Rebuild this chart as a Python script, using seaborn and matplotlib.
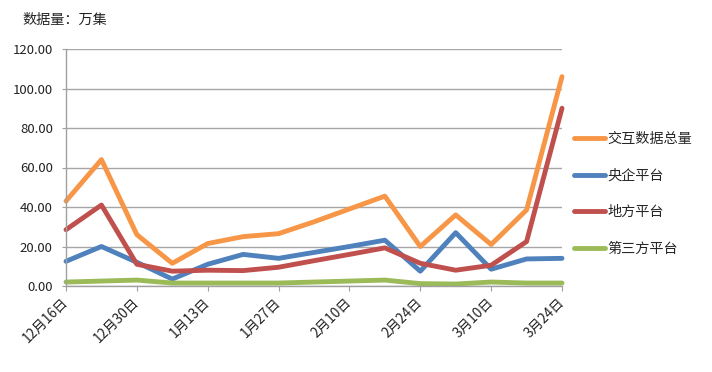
# -*- coding: utf-8 -*-
# Weekly data volume by platform (万集)

import pandas as pd
import seaborn as sns
import matplotlib.pyplot as plt
import matplotlib.transforms as mtransforms

# Data
dates = ["12月16日", "12月23日", "12月30日", "1月6日", "1月13日", "1月20日", "1月27日",
         "2月3日", "2月10日", "2月17日", "2月24日", "3月3日", "3月10日", "3月17日", "3月24日"]
total = [43, 64, 26, 11.5, 21.5, 25, 26.5, 32.5, 39, 45.5, 20, 36, 21, 38.5, 106]
central = [12.5, 20, 12, 3.5, 11, 16, 14, 17, 20, 23.2, 7.5, 27, 8.5, 13.7, 14]
local = [28.5, 41, 11, 7.5, 8, 7.8, 9.5, 12.8, 16, 19.3, 11.5, 8, 10.5, 22.5, 90]
third = [2, 2.5, 3, 1.5, 1.5, 1.5, 1.5, 2, 2.5, 3, 1.2, 1, 2, 1.5, 1.5]
series_names = ["交互数据总量", "央企平台", "地方平台", "第三方平台"]
colors = ["#F79646", "#4F81BD", "#C0504D", "#9BBB59"]

sns.set_style("white")
plt.rcParams['font.family'] = ['Noto Sans CJK SC', 'DejaVu Sans']

df = pd.DataFrame({"idx": list(range(len(dates))) * 4,
                   "value": total + central + local + third,
                   "series": [n for n in series_names for _ in dates]})

fig = plt.figure(figsize=(7.12, 3.72), dpi=100)
ax = fig.add_axes([66 / 712, 1 - 286 / 372, (562 - 66) / 712, (286 - 49) / 372])

sns.lineplot(data=df, x="idx", y="value", hue="series", hue_order=series_names,
             palette=dict(zip(series_names, colors)), linewidth=3.5, ax=ax,
             clip_on=False, legend=True)

ax.set_xlim(0, len(dates) - 1)
ax.set_ylim(0, 120)
ax.set_yticks(range(0, 121, 20))
ax.set_yticklabels([f"{v:.2f}" for v in range(0, 121, 20)])
ax.set_xticks(range(0, len(dates), 2))
ax.set_xticklabels(dates[::2], rotation=45, ha="right", va="center",
                   rotation_mode="anchor")
offset = mtransforms.ScaledTranslation(3 / 100, 0, fig.dpi_scale_trans)
for lab in ax.get_xticklabels():
    lab.set_transform(lab.get_transform() + offset)

ax.set_xlabel("")
ax.set_ylabel("")
ax.yaxis.grid(True, color="#a6a6a6", linewidth=1)
ax.set_axisbelow(True)
for s in ["top", "right"]:
    ax.spines[s].set_visible(False)
for s in ["left", "bottom"]:
    ax.spines[s].set_color("#a0a0a0")
    ax.spines[s].set_linewidth(1)
ax.tick_params(axis="y", length=3, color="#a0a0a0", pad=6.5, labelsize=9.5,
               labelcolor="#222222", left=True)
ax.tick_params(axis="x", length=3.5, color="#a0a0a0", pad=6.5, labelsize=9.8,
               labelcolor="#222222", bottom=True)

handles, labels = ax.get_legend_handles_labels()
for h in handles:
    h.set_linewidth(3.5)
ax.legend(handles, labels, loc="center left", frameon=False,
          bbox_to_anchor=(574 / 712, 1 - 194 / 372), bbox_transform=fig.transFigure,
          fontsize=10.2, handlelength=2.2, handletextpad=0.15, labelspacing=1.6,
          borderpad=0, borderaxespad=0)

fig.text(22 / 712, 1 - 20 / 372, "数据量：万集", fontsize=10.2, va="center", ha="left",
         color="#222222")

fig.savefig("out.png", dpi=100)
